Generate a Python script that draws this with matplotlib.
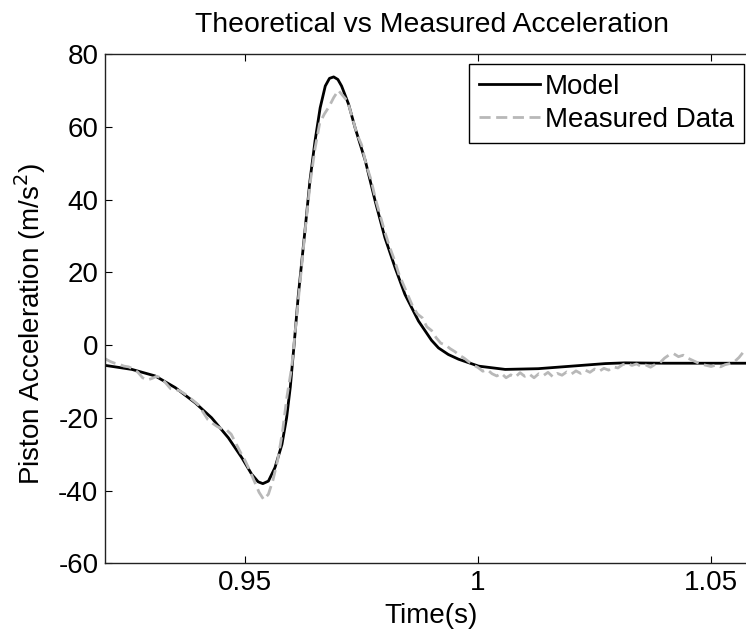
import matplotlib
matplotlib.use("Agg")
import matplotlib.pyplot as plt
import numpy as np

plt.rcParams['font.family'] = ['Liberation Sans', 'DejaVu Sans']
plt.rcParams['font.size'] = 20
plt.rcParams['axes.unicode_minus'] = False

# model curve
t_model = [0.9200, 0.9257, 0.9307, 0.9350, 0.9393, 0.9428, 0.9464, 0.9493, 0.9514, 0.9528,
           0.9538, 0.9550, 0.9564, 0.9579, 0.9589, 0.9597, 0.9605, 0.9614, 0.9629, 0.9639,
           0.9650, 0.9661, 0.9672, 0.9681, 0.9690, 0.9699, 0.9707, 0.9722, 0.9736, 0.9758,
           0.9779, 0.9800, 0.9822, 0.9843, 0.9872, 0.9900, 0.9915, 0.9936, 0.9958, 1.0001,
           1.0058, 1.0129, 1.0201, 1.0273, 1.0315, 1.0400, 1.0500, 1.0580]
a_model = [-5.6, -6.7, -8.5, -11.7, -15.9, -20.0, -25.5, -31.0, -35.5, -37.6,
           -38.1, -37.4, -33.7, -27.3, -20.0, -11.5, 0.0, 13.5, 32.2, 45.1,
           56.1, 65.2, 71.2, 73.3, 73.7, 73.0, 71.2, 66.2, 59.7, 50.6,
           39.6, 29.5, 21.2, 13.9, 6.6, 1.3, -0.8, -2.6, -3.9, -5.8,
           -6.7, -6.5, -5.8, -5.1, -4.9, -5.0, -5.0, -5.0]

# measured data, one sample per ms from 0.920 s
t_meas_start = 0.920
a_meas = [-3.8, -4.5, -5.0, -5.3, -5.8, -6.0, -6.6, -7.5, -9.0, -9.6,
          -9.2, -8.6, -9.0, -10.5, -12.0, -12.2, -12.6, -13.4, -14.4, -15.4,
          -16.5, -18.5, -20.5, -21.5, -22.4, -23.0, -23.3, -24.5, -27.0, -29.5,
          -31.8, -34.5, -37.5, -40.5, -42.5, -41.0, -37.0, -31.5, -24.0, -14.0,
          -6.0, 7.0, 20.0, 33.0, 45.0, 54.0, 61.0, 63.5, 65.5, 68.0,
          70.0, 68.5, 67.0, 62.5, 58.0, 55.0, 49.5, 45.5, 40.0, 35.5,
          31.0, 27.0, 23.5, 19.5, 16.5, 13.5, 10.5, 8.5, 7.5, 5.0,
          4.0, 2.0, 0.5, 0.0, -1.0, -1.8, -2.8, -3.6, -4.6, -5.5,
          -6.2, -7.2, -6.8, -7.9, -8.5, -7.8, -9.0, -8.2, -8.8, -7.6,
          -8.6, -8.0, -9.0, -7.9, -8.4, -7.5, -8.7, -7.8, -8.3, -7.4,
          -8.0, -7.1, -7.8, -6.9, -7.5, -6.6, -7.2, -6.4, -6.9, -6.0,
          -6.3, -5.4, -5.0, -5.6, -5.2, -5.9, -5.5, -6.1, -5.3, -4.9,
          -3.6, -2.7, -2.4, -3.2, -2.8, -3.6, -4.2, -4.8, -5.3, -5.6,
          -5.9, -5.5, -6.0, -5.4, -5.1, -4.6, -3.4, -1.8]
t_meas = t_meas_start + 0.001 * np.arange(len(a_meas))

xticks = [0.95, 1.0, 1.05]
xticklabels = ['0.95', '1', '1.05']
yticks = [-60, -40, -20, 0, 20, 40, 60, 80]

fig = plt.figure(figsize=(7.46, 6.36), dpi=100)
ax = fig.add_axes([0.1412, 0.1143, 0.8745, 0.8008])

ax.plot(t_model, a_model, color='black', lw=2, label='Model')
ax.plot(t_meas, a_meas, color=(0.72, 0.72, 0.72), lw=2, ls='--', dashes=(4, 2),
        label='Measured Data')

ax.set_xlim(0.92, 1.06)
ax.set_ylim(-60, 80)
ax.set_xticks(xticks)
ax.set_xticklabels(xticklabels)
ax.set_yticks(yticks)
ax.tick_params(direction='in', length=5, width=0.8, top=True, right=True, pad=5)
for s in ax.spines.values():
    s.set_linewidth(1)
    s.set_color('#222222')

ax.set_xlabel('Time(s)', labelpad=5)
ax.set_ylabel('Piston Acceleration (m/s$^2$)')
ax.yaxis.set_label_coords(-0.088, 0.47)
ax.set_title('Theoretical vs Measured Acceleration', pad=16, fontsize=20.4)

leg = ax.legend(loc='upper left', bbox_to_anchor=(469 / 746, 1 - 64 / 636),
                bbox_transform=fig.transFigure, borderaxespad=0, fancybox=False,
                framealpha=1, edgecolor='black', handlelength=2.2,
                handletextpad=0.18, labelspacing=0.26, borderpad=0.35)
leg.get_frame().set_linewidth(1)

fig.savefig('out.png', dpi=100)
